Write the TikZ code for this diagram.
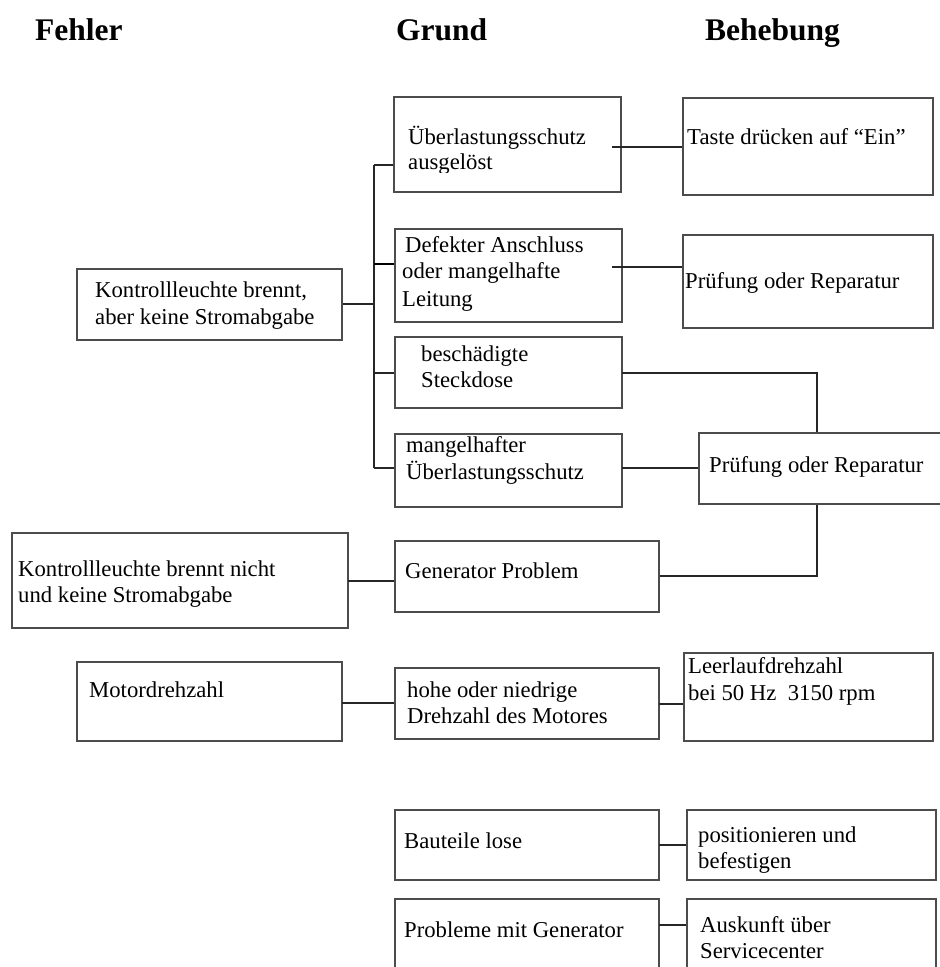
\documentclass[tikz,border=0pt]{standalone}
\usepackage{fontspec}
\setmainfont{Liberation Serif}
\newcommand\mybox[5]{\node[box, minimum width={(#4-#2)*1pt}, minimum height={(#5-#3)*1pt}] (#1) at ({(#2+#4)/2},{(#3+#5)/2}) {};}
\begin{document}
\begin{tikzpicture}[x=1pt,y=-1pt,
  box/.style={draw=black!70, line width=1.1pt, inner sep=0pt, rectangle},
  txt/.style={anchor=base west, inner sep=0pt, font=\fontsize{22.7}{27}\selectfont},
  head/.style={anchor=base west, inner sep=0pt, font=\fontsize{31.5}{36}\selectfont\bfseries},
  conn/.style={draw=black!85, line width=1.1pt}]
\useasboundingbox (0,0) rectangle (940,967);
\clip (0,0) rectangle (940,967);
\fill[white] (0,0) rectangle (940,967);

% headers
\node[head] (h1) at (35,40) {Fehler};
\node[head] (h2) at (396,40) {Grund};
\node[head] (h3) at (705,40) {Behebung};

% boxes
\mybox{a1}{394}{97}{621}{192}
\mybox{r1}{683}{98}{933}{195}
\mybox{a2}{395}{229}{622}{322}
\mybox{r2}{683}{235}{933}{328}
\mybox{a3}{395}{337}{622}{408}
\mybox{a4}{395}{434}{622}{507}
\mybox{r3}{699}{433}{960}{504}
\mybox{k1}{77}{269}{342}{340}
\mybox{k2}{12}{533}{348}{628}
\mybox{g}{395}{541}{659}{612}
\mybox{m}{77}{662}{342}{741}
\mybox{hh}{395}{668}{659}{739}
\mybox{l}{684}{653}{933}{741}
\mybox{b}{395}{810}{659}{880}
\mybox{p}{687}{810}{936}{880}
\mybox{pr}{395}{899}{659}{1000}
\mybox{au}{687}{899}{936}{1000}

% texts
\node[txt] (a1t1) at (408,144) {Überlastungsschutz};
\begin{scope}
\clip (394,97) rectangle (621,172);
\node[txt] (a1t2) at (408,169) {ausgelöst};
\end{scope}
\node[txt] (r1t1) at (687,144) {Taste drücken auf “Ein”};
\node[txt] (a2t1) at (405,252) {Defekter Anschluss};
\node[txt] (a2t2) at (402,278) {oder mangelhafte};
\node[txt] (a2t3) at (402,306) {Leitung};
\node[txt] (r2t1) at (685,288) {Prüfung oder Reparatur};
\node[txt] (a3t1) at (421,361) {beschädigte};
\node[txt] (a3t2) at (421,387) {Steckdose};
\node[txt] (a4t1) at (406,452) {mangelhafter};
\node[txt] (a4t2) at (406,479) {Überlastungsschutz};
\node[txt] (r3t1) at (709,472) {Prüfung oder Reparatur};
\node[txt] (k1t1) at (95,297) {Kontrollleuchte brennt,};
\node[txt] (k1t2) at (95,324) {aber keine Stromabgabe};
\node[txt] (k2t1) at (18,576) {Kontrollleuchte brennt nicht};
\node[txt] (k2t2) at (18,602) {und keine Stromabgabe};
\node[txt] (gt1) at (405,578) {Generator Problem};
\node[txt] (mt1) at (89,697) {Motordrehzahl};
\node[txt] (ht1) at (407,697) {hohe oder niedrige};
\node[txt] (ht2) at (407,723) {Drehzahl des Motores};
\node[txt] (lt1) at (688,673) {Leerlaufdrehzahl};
\node[txt] (lt2) at (688,700) {bei 50 Hz\ \ 3150 rpm};
\node[txt] (bt1) at (404,848) {Bauteile lose};
\node[txt] (pt1) at (698,842) {positionieren und};
\node[txt] (pt2) at (698,868) {befestigen};
\node[txt] (prt1) at (404,937) {Probleme mit Generator};
\node[txt] (aut1) at (700,932) {Auskunft über};
\node[txt] (aut2) at (700,958) {Servicecenter};

% connector points
\coordinate (bustop) at (374,165);
\coordinate (bus2) at (374,264);
\coordinate (bus3) at (374,373);
\coordinate (busbot) at (374,468);
\coordinate (kin) at (374,304);
\coordinate (s1) at (612,147);
\coordinate (s2) at (612,267);
\coordinate (s3) at (622,373);
\coordinate (j3) at (817,373);
\coordinate (s4) at (622,468);
\coordinate (jg) at (817,576);
\coordinate (s5) at (348,581);
\coordinate (s6) at (342,703);
\coordinate (s7) at (659,704);
\coordinate (s8) at (659,845);
\coordinate (s9) at (659,925);

% connectors
\draw[conn] (bustop) -- (busbot);
\draw[conn] (k1.east |- kin) -- (kin);
\draw[conn] (bustop) -- (bustop -| a1.west);
\draw[conn, line width=1.7pt, draw=black] (bus2) -- (bus2 -| a2.west);
\draw[conn] (bus3) -- (bus3 -| a3.west);
\draw[conn] (busbot) -- (busbot -| a4.west);
\draw[conn] (s1) -- (s1 -| r1.west);
\draw[conn] (s2) -- (s2 -| r2.west);
\draw[conn] (s3) -- (j3) -- (j3 |- r3.north);
\draw[conn] (s4) -- (s4 -| r3.west);
\draw[conn] (g.east |- jg) -- (jg) -- (jg |- r3.south);
\draw[conn] (s5) -- (s5 -| g.west);
\draw[conn] (s6) -- (s6 -| hh.west);
\draw[conn] (s7) -- (s7 -| l.west);
\draw[conn] (s8) -- (s8 -| p.west);
\draw[conn] (s9) -- (s9 -| au.west);
\end{tikzpicture}
\end{document}
